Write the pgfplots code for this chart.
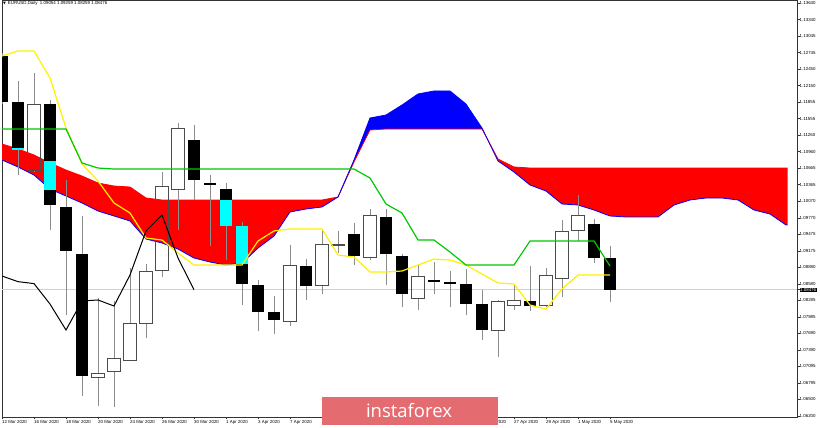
\documentclass[border=0pt]{standalone}
\usepackage{pgfplots}
\pgfplotsset{compat=1.18}
\usepackage{pgfplotstable}
\usepgfplotslibrary{fillbetween}
\usepackage{fontspec}
\setmainfont{Liberation Sans}
\newfontfamily\dejavu{DejaVu Sans}
\newfontfamily\osans{Open Sans}
\definecolor{kij}{RGB}{0,200,0}
\definecolor{ten}{RGB}{255,240,0}
\definecolor{wm}{RGB}{228,108,112}
\definecolor{cy}{RGB}{0,255,255}

% black (bearish) candles
\pgfplotstableread{
i O H L C
0 1.12685 1.12740 1.11820 1.11856
1 1.11856 1.12235 1.10541 1.10992
3 1.11820 1.11892 1.09551 1.10001
4 1.09965 1.10451 1.08019 1.09172
5 1.09118 1.09803 1.06560 1.06920
12 1.11172 1.11442 1.10091 1.10451
13 1.10397 1.10541 1.09262 1.10361
14 1.10289 1.10397 1.09010 1.09623
15 1.09623 1.09695 1.08199 1.08578
16 1.08560 1.08650 1.07731 1.08073
17 1.08073 1.08362 1.07677 1.07929
19 1.08902 1.09028 1.08290 1.08542
22 1.09479 1.09677 1.08920 1.09082
24 1.09785 1.09929 1.08560 1.09118
25 1.09082 1.09118 1.08163 1.08398
27 1.08645 1.08974 1.08398 1.08620
28 1.08610 1.08812 1.08163 1.08585
29 1.08578 1.08848 1.08019 1.08217
30 1.08217 1.08476 1.07569 1.07749
33 1.08272 1.08902 1.08091 1.08181
37 1.09659 1.09749 1.08956 1.09046
38 1.09054 1.09259 1.08259 1.08476
}\blk

% white (bullish) candles
\pgfplotstableread{
i O H L C
2 1.10631 1.12379 1.10595 1.11820
6 1.06902 1.08326 1.06380 1.06974
7 1.07010 1.08272 1.06362 1.07245
8 1.07209 1.08866 1.07200 1.07875
9 1.07875 1.08938 1.07605 1.08812
10 1.08830 1.10595 1.08704 1.10343
11 1.10289 1.11478 1.09551 1.11388
18 1.07911 1.09280 1.07821 1.08920
20 1.08560 1.09533 1.08398 1.09298
21 1.09280 1.09533 1.09136 1.09298
23 1.09064 1.09929 1.09010 1.09821
26 1.08326 1.08920 1.08109 1.08722
31 1.07749 1.08290 1.07263 1.08272
32 1.08199 1.08578 1.08109 1.08290
34 1.08199 1.08866 1.08163 1.08740
35 1.08686 1.09731 1.08344 1.09533
36 1.09551 1.10181 1.09352 1.09821
}\wht

% parts of black bodies inside the cloud
\pgfplotstableread{
i lo hi
1 1.10992 1.11028
3 1.10271 1.10794
14 1.09623 1.10091
15 1.08938 1.09623
}\cyn

\pgfplotstableread{
i v
0 1.12685
1 1.12775
2 1.12775
3 1.12289
4 1.11388
5 1.10740
6 1.10433
7 1.10037
8 1.09857
9 1.09406
10 1.09370
11 1.09136
12 1.08920
13 1.08920
14 1.08920
15 1.08920
16 1.09352
17 1.09533
18 1.09569
19 1.09569
20 1.09569
21 1.09100
22 1.09064
23 1.08794
24 1.08794
25 1.08812
26 1.08920
27 1.09028
28 1.09010
29 1.08920
30 1.08758
31 1.08596
32 1.08578
33 1.08199
34 1.08127
35 1.08488
36 1.08740
37 1.08740
38 1.08740
}\tenkan

\pgfplotstableread{
i v
0 1.11370
4 1.11370
5 1.10758
6 1.10667
7 1.10649
22 1.10649
23 1.10487
24 1.10019
25 1.09857
26 1.09370
27 1.09370
28 1.09154
29 1.08920
32 1.08920
33 1.09352
37 1.09352
38 1.08902
}\kijun

\pgfplotstableread{
i v
0 1.08722
1 1.08620
2 1.08585
3 1.08217
4 1.07749
5 1.08272
6 1.08290
7 1.08181
8 1.08740
9 1.09533
10 1.09821
11 1.09046
12 1.08476
}\chikou

\pgfplotstableread{
i v
0 1.10812
1 1.10686
2 1.10541
3 1.10289
4 1.10163
5 1.10037
6 1.09893
7 1.09803
8 1.09713
9 1.09388
10 1.09316
11 1.09208
12 1.09046
13 1.08974
14 1.08920
15 1.08956
16 1.09226
17 1.09442
18 1.09875
19 1.09929
20 1.09965
21 1.10145
22 1.10812
23 1.11568
24 1.11622
25 1.11802
26 1.12001
27 1.12055
28 1.12055
29 1.11820
30 1.11388
31 1.10794
32 1.10595
33 1.10361
34 1.10253
35 1.10019
36 1.10001
37 1.09911
38 1.09803
39 1.09785
40 1.09785
41 1.09785
42 1.10001
43 1.10091
44 1.10127
45 1.10127
46 1.10091
47 1.09911
48 1.09839
49 1.09641
49.1 1.09641
}\spanA

\pgfplotstableread{
i v
0 1.11100
1 1.11010
2 1.10902
3 1.10758
4 1.10631
5 1.10523
6 1.10397
7 1.10343
8 1.10325
9 1.10127
10 1.10091
20 1.10091
21 1.10145
22 1.10776
23 1.11352
24 1.11370
30 1.11370
31 1.10830
32 1.10686
33 1.10667
49.1 1.10667
}\spanB

\pgfplotsset{
  nomk/.style={only marks, forget plot, mark size=0pt,
    mark options={draw=none, fill=none}},
  wickup/.style={nomk,
    error bars/.cd, y dir=plus, y explicit, error mark=none,
    error bar style={line width=1pt, black!45}},
  wickdn/.style={nomk,
    error bars/.cd, y dir=minus, y explicit, error mark=none,
    error bar style={line width=1pt, black!45}},
  outv/.style={nomk,
    error bars/.cd, y dir=plus, y explicit, error mark=none,
    error bar style={line width=0.9pt, black!70, line cap=rect}},
  outh/.style={nomk,
    error bars/.cd, x dir=both, x fixed=0.385, error mark=none,
    error bar style={line width=0.9pt, black!70, line cap=rect}},
}

\begin{document}
\begin{tikzpicture}[x=1pt,y=1pt]
\begin{axis}[
  at={(0,0)}, anchor=south west,
  scale only axis, width=795pt, height=417pt,
  xmin=0, xmax=49.6875, ymin=1.06182, ymax=1.13694,
  axis line style={black!80, line width=0.8pt},
  tick style={black!80, line width=0.6pt},
  major tick length=2.5pt, tick align=outside,
  xtick pos=bottom, ytick pos=right, yticklabel pos=right,
  xtick={0,2,...,38},
  xticklabels={12 Mar 2020,16 Mar 2020,18 Mar 2020,20 Mar 2020,24 Mar 2020,26 Mar 2020,30 Mar 2020,1 Apr 2020,3 Apr 2020,7 Apr 2020,,,,,,23 Apr 2020,27 Apr 2020,29 Apr 2020,1 May 2020,5 May 2020},
  xticklabel style={font=\fontsize{4.4}{5}\selectfont, anchor=north west, inner sep=0pt, yshift=-0.5pt},
  ytick={1.13640,1.13340,1.13045,1.12745,1.12450,1.12150,1.11855,1.11555,1.11260,1.10960,1.10665,1.10365,1.10070,1.09770,1.09475,1.09175,1.08880,1.08580,1.08285,1.07985,1.07690,1.07390,1.07095,1.06795,1.06500,1.06200},
  yticklabels={1.13640,1.13340,1.13045,1.12745,1.12450,1.12150,1.11855,1.11555,1.11260,1.10960,1.10665,1.10365,1.10070,1.09770,1.09475,1.09175,1.08880,1.08580,1.08285,1.07985,1.07690,1.07390,1.07095,1.06795,1.06500,1.06200},
  yticklabel style={font=\fontsize{4.4}{5}\selectfont, anchor=west, inner sep=0pt},
  extra y ticks={1.08476}, extra y tick labels={1.08476},
  extra y tick style={yticklabel style={fill=black, text=white, inner sep=0.5pt}},
]
% current price line
\addplot[black!18, line width=0.8pt, forget plot] coordinates {(0,1.08476) (49.6875,1.08476)};

% cloud
\addplot[draw=none, name path=A, forget plot] table[x=i,y=v] \spanA;
\addplot[draw=none, name path=B, forget plot] table[x=i,y=v] \spanB;
\addplot[red, draw=none, forget plot] fill between[of=A and B, soft clip={domain=0:21}];
\addplot[blue, draw=none, forget plot] fill between[of=A and B, soft clip={domain=21:30.33}];
\addplot[red, draw=none, forget plot] fill between[of=A and B, soft clip={domain=30.33:49.1}];
\addplot[red, line width=0.8pt, forget plot] table[x=i,y=v] \spanB;
\addplot[blue, line width=0.8pt, forget plot] table[x=i,y=v] \spanA;

% wicks
\addplot[wickup] table[x=i, y expr={max(\thisrow{O},\thisrow{C})}, y error plus expr={\thisrow{H}-max(\thisrow{O},\thisrow{C})}] \blk;
\addplot[wickdn] table[x=i, y expr={min(\thisrow{O},\thisrow{C})}, y error minus expr={min(\thisrow{O},\thisrow{C})-\thisrow{L}}] \blk;
\addplot[wickup] table[x=i, y expr={max(\thisrow{O},\thisrow{C})}, y error plus expr={\thisrow{H}-max(\thisrow{O},\thisrow{C})}] \wht;
\addplot[wickdn] table[x=i, y expr={min(\thisrow{O},\thisrow{C})}, y error minus expr={min(\thisrow{O},\thisrow{C})-\thisrow{L}}] \wht;

% white candle outlines
\addplot[outv] table[x expr=\thisrow{i}-0.385, y=O, y error plus expr=\thisrow{C}-\thisrow{O}] \wht;
\addplot[outv] table[x expr=\thisrow{i}+0.385, y=O, y error plus expr=\thisrow{C}-\thisrow{O}] \wht;
\addplot[outh] table[x=i, y=O] \wht;
\addplot[outh] table[x=i, y=C] \wht;

% black bodies
\addplot[nomk,
  error bars/.cd, y dir=plus, y explicit, error mark=none,
  error bar style={line width=12.4pt, black}]
  table[x=i, y=C, y error plus expr=\thisrow{O}-\thisrow{C}] \blk;
% cyan overlap parts
\addplot[nomk,
  error bars/.cd, y dir=plus, y explicit, error mark=none,
  error bar style={line width=12pt, cy}]
  table[x=i, y=lo, y error plus expr=\thisrow{hi}-\thisrow{lo}] \cyn;

% Ichimoku lines
\addplot[ten, line width=1.2pt, forget plot] table[x=i,y=v] \tenkan;
\addplot[kij, line width=1.2pt, forget plot] table[x=i,y=v] \kijun;
\addplot[black, line width=1pt, forget plot] table[x=i,y=v] \chikou;
\end{axis}
% title
\node[anchor=north west, inner sep=0pt, font=\fontsize{4.4}{5}\selectfont] at (1,415.5)
  {{\dejavu\fontsize{3.6}{4}\selectfont ▼}\hspace{2pt}EURUSD,Daily\ \ 1.09054\ 1.09259\ 1.08259\ 1.08476};
% watermark
\fill[wm] (320,-8) rectangle (496,20);
\node[anchor=base, inner sep=0pt, text=white, font=\osans\fontsize{18.5}{19}\selectfont] at (407,-1) {instaforex};
\pgfresetboundingbox
\useasboundingbox (-2,-11) rectangle (818,417);
\end{tikzpicture}
\end{document}
